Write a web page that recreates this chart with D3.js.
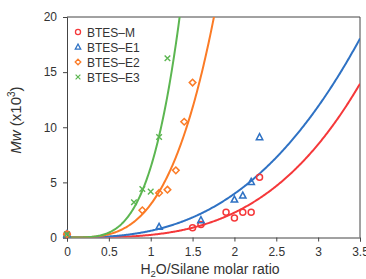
<!DOCTYPE html>
<html>
<head>
<meta charset="utf-8">
<script src="https://cdn.jsdelivr.net/npm/d3@7"></script>
<style>
  body { margin: 0; background: #fff; }
  svg text { font-family: "Liberation Sans", Arial, sans-serif; fill: #333; }
</style>
</head>
<body>
<div id="chart"></div>
<script>
// values
const seriesNames = ["BTES–M", "BTES–E1", "BTES–E2", "BTES–E3"];
const seriesColors = ["#f5383a", "#2f72c4", "#fb7b26", "#5cb651"];
const seriesShapes = ["circle", "triangle", "diamond", "cross"];

const ratioM  = [0, 1.5, 1.6, 1.9, 2.0, 2.1, 2.2, 2.3];
const mwM     = [0.3, 0.88, 1.18, 2.29, 1.78, 2.29, 2.29, 5.46];
const ratioE1 = [0, 1.1, 1.6, 2.0, 2.1, 2.2, 2.3];
const mwE1    = [0.3, 0.97, 1.57, 3.44, 3.8, 5.04, 9.1];
const ratioE2 = [0, 0.9, 1.1, 1.2, 1.3, 1.4, 1.5];
const mwE2    = [0.3, 2.47, 4.04, 4.34, 6.09, 10.5, 14.05];
const ratioE3 = [0, 0.8, 0.9, 1.0, 1.1, 1.2];
const mwE3    = [0.3, 3.2, 4.4, 4.16, 9.11, 16.26];

const xTicks = [0, 0.5, 1, 1.5, 2, 2.5, 3, 3.5];
const yTicks = [0, 5, 10, 15, 20];

const width = 366, height = 279;
const mLeft = 67, mRight = 360, mTop = 17, mBottom = 237.5;

const svg = d3.select("#chart").append("svg")
  .attr("width", width)
  .attr("height", height);

const x = d3.scaleLinear().domain([0, 3.5]).range([mLeft, mRight]);
const y = d3.scaleLinear().domain([0, 20]).range([mBottom, mTop]);

const series = [
  {xs: ratioM, ys: mwM},
  {xs: ratioE1, ys: mwE1},
  {xs: ratioE2, ys: mwE2},
  {xs: ratioE3, ys: mwE3}
].map((s, i) => ({
  name: seriesNames[i], color: seriesColors[i], shape: seriesShapes[i],
  pts: s.xs.map((v, j) => ({x: v, y: s.ys[j]}))
}));

// power trendline (least squares in log space, zero ratios left out)
function powerFit(pts) {
  const p = pts.filter(d => d.x > 0 && d.y > 0);
  const lx = p.map(d => Math.log(d.x)), ly = p.map(d => Math.log(d.y));
  const mx = d3.mean(lx), my = d3.mean(ly);
  const n = d3.sum(lx, (v, i) => (v - mx) * (ly[i] - my)) / d3.sum(lx, v => (v - mx) * (v - mx));
  const a = Math.exp(my - n * mx);
  return v => a * Math.pow(v, n);
}

svg.append("clipPath").attr("id", "plotclip")
  .append("rect")
  .attr("x", mLeft).attr("y", mTop)
  .attr("width", mRight - mLeft).attr("height", mBottom - mTop);

// frame (top and right)
svg.append("path")
  .attr("d", `M${mLeft},${mTop}H${mRight}V${mBottom}`)
  .attr("fill", "none")
  .attr("stroke", "#444")
  .attr("stroke-width", 1);

// axes
const xAxis = svg.append("g")
  .attr("transform", `translate(0,${mBottom})`)
  .call(d3.axisBottom(x).tickValues(xTicks).tickSize(4).tickPadding(6).tickFormat(d3.format("")));
const yAxis = svg.append("g")
  .attr("transform", `translate(${mLeft},0)`)
  .call(d3.axisLeft(y).tickValues(yTicks).tickSize(4).tickPadding(6));
[xAxis, yAxis].forEach(ax => {
  ax.select(".domain").attr("stroke", "#444");
  ax.selectAll(".tick line").attr("stroke", "#444");
  ax.selectAll(".tick text").style("font-size", "12px").attr("fill", "#333");
});

// trend lines
const xs = d3.range(0, 3.5001, 0.01);
const line = d3.line().x(d => x(d[0])).y(d => y(d[1]));
svg.append("g").attr("clip-path", "url(#plotclip)")
  .selectAll("path")
  .data(series)
  .enter()
  .append("path")
  .attr("d", s => { const f = powerFit(s.pts); return line(xs.map(v => [v, Math.min(f(v), 25)])); })
  .attr("fill", "none")
  .attr("stroke", s => s.color)
  .attr("stroke-width", 2);

function drawMarker(g, shape, color) {
  if (shape === "circle") {
    g.append("circle").attr("r", 3).attr("fill", "none").attr("stroke", color).attr("stroke-width", 1.5);
  } else if (shape === "triangle") {
    g.append("path").attr("d", "M0,-3.5L3.2,2.5L-3.2,2.5Z").attr("fill", "none").attr("stroke", color).attr("stroke-width", 1.5);
  } else if (shape === "diamond") {
    g.append("path").attr("d", "M0,-3.3L3.3,0L0,3.3L-3.3,0Z").attr("fill", "none").attr("stroke", color).attr("stroke-width", 1.5);
  } else {
    g.append("path").attr("d", "M-2.8,-2.8L2.8,2.8M-2.8,2.8L2.8,-2.8").attr("fill", "none").attr("stroke", color).attr("stroke-width", 1.4);
  }
}

// points
series.forEach(s => {
  svg.append("g")
    .selectAll("g")
    .data(s.pts)
    .enter()
    .append("g")
    .attr("transform", d => `translate(${x(d.x)},${y(d.y)})`)
    .each(function () { drawMarker(d3.select(this), s.shape, s.color); });
});

// legend
const legend = svg.append("g").attr("transform", "translate(78,32)");
series.forEach((s, i) => {
  const row = legend.append("g").attr("transform", `translate(0,${i * 15})`);
  const m = row.append("g").attr("transform", "scale(0.85)");
  drawMarker(m, s.shape, s.color);
  row.append("text")
    .attr("x", 9).attr("y", 4.5)
    .style("font-size", "12px")
    .attr("fill", "#222")
    .text(s.name);
});

// axis titles
const xt = svg.append("text")
  .attr("x", 210).attr("y", 274)
  .attr("text-anchor", "middle")
  .style("font-size", "14px")
  .attr("fill", "#222");
xt.append("tspan").text("H");
xt.append("tspan").text("2").style("font-size", "9.5px").attr("dy", 3);
xt.append("tspan").text("O/Silane molar ratio").attr("dy", -3);

const yt = svg.append("text")
  .attr("transform", "translate(21,120) rotate(-90)")
  .attr("text-anchor", "middle")
  .style("font-size", "15px")
  .attr("fill", "#222");
yt.append("tspan").text("Mw").style("font-style", "italic");
yt.append("tspan").text(" (x10");
yt.append("tspan").text("3").style("font-size", "10px").attr("dy", -6);
yt.append("tspan").text(")").attr("dy", 6);
</script>
</body>
</html>
